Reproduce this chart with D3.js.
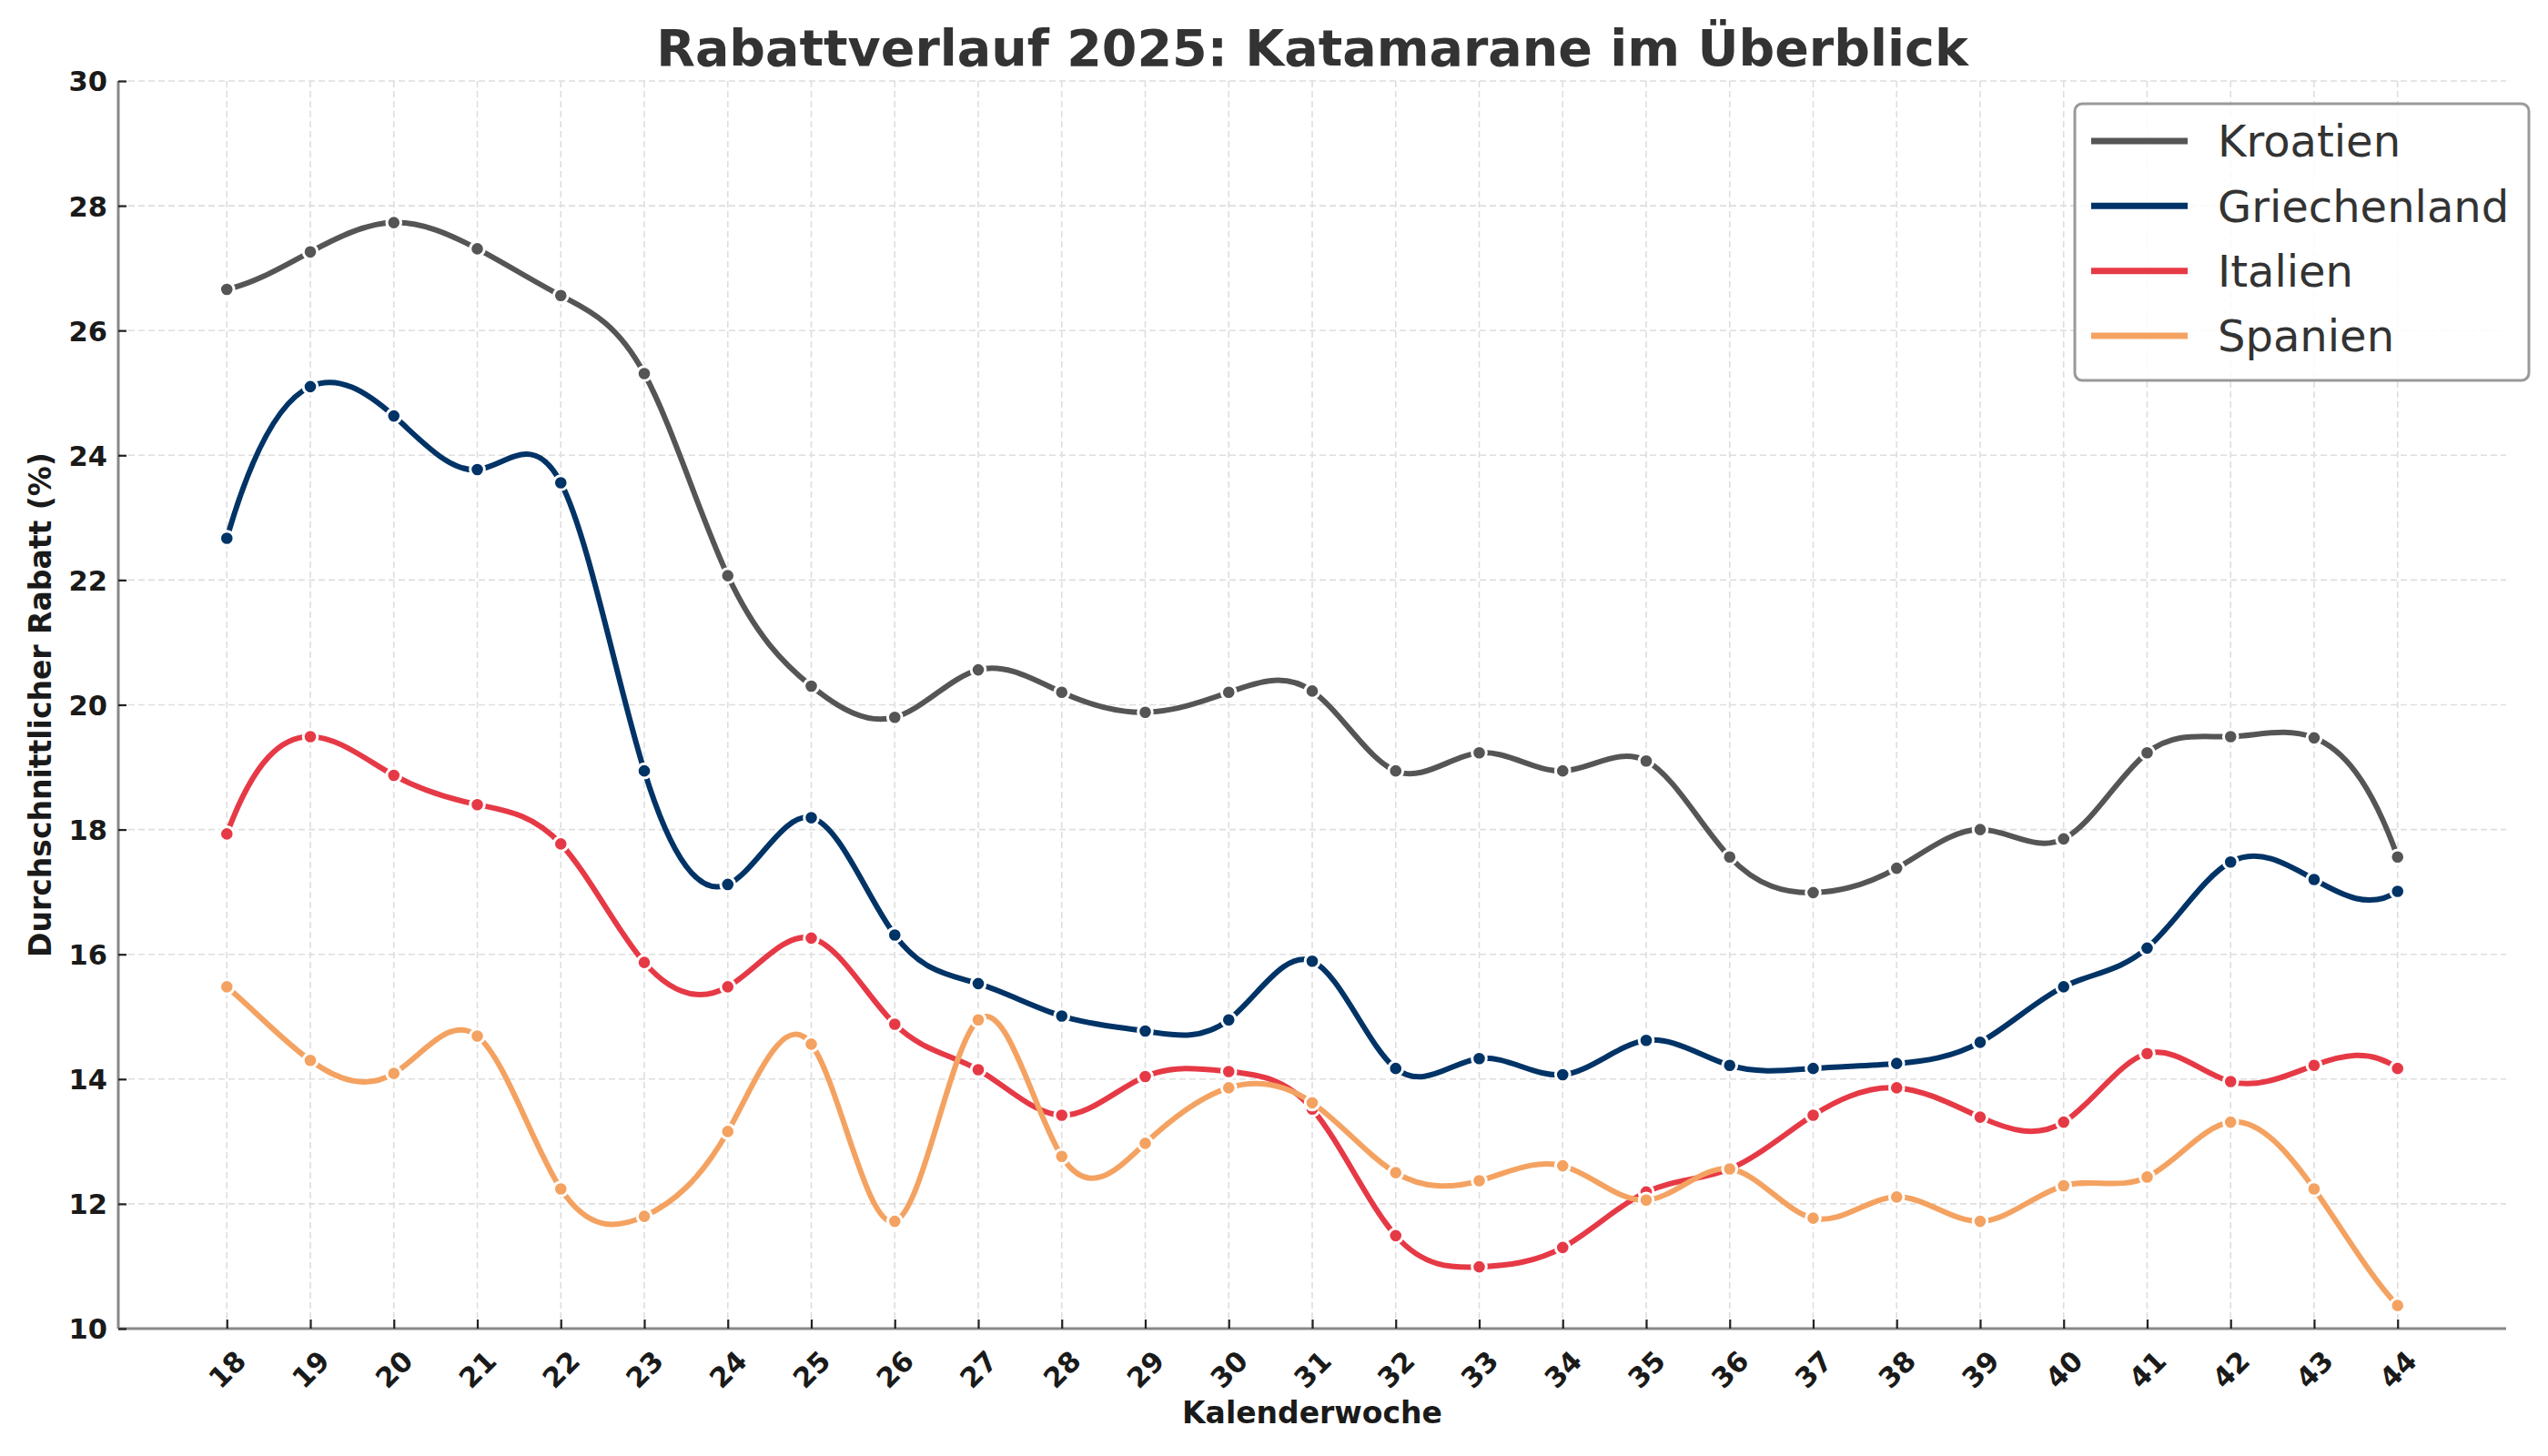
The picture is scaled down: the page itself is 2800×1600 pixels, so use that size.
<!DOCTYPE html>
<html>
<head>
<meta charset="utf-8">
<script src="https://cdn.jsdelivr.net/npm/d3@7"></script>
<style>
  html, body { margin: 0; padding: 0; background: #ffffff; }
  svg { display: block; }
  text { font-family: "DejaVu Sans", sans-serif; }
</style>
</head>
<body>
<svg id="chart" width="2800" height="1600"></svg>
<script>
// ---------------- DATA ----------------
const weeks = [18, 19, 20, 21, 22, 23, 24, 25, 26, 27, 28, 29, 30, 31, 32, 33, 34, 35, 36, 37, 38, 39, 40, 41, 42, 43, 44];

const kroatien = [26.66, 27.26, 27.73, 27.31, 26.56, 25.31, 22.07, 20.30, 19.80, 20.56, 20.20, 19.88, 20.20, 20.22,
                  18.94, 19.23, 18.94, 19.10, 17.56, 16.99, 17.38, 18.00, 17.85, 19.23, 19.49, 19.47, 17.56];
const griechenland = [22.67, 25.10, 24.63, 23.77, 23.56, 18.94, 17.12, 18.19, 16.31, 15.53, 15.01, 14.77, 14.95, 15.89,
                      14.17, 14.33, 14.07, 14.62, 14.22, 14.17, 14.25, 14.59, 15.48, 16.10, 17.48, 17.20, 17.01];
const italien = [17.93, 19.49, 18.87, 18.40, 17.77, 15.87, 15.48, 16.26, 14.88, 14.15, 13.42, 14.04, 14.12, 13.52,
                 11.49, 10.99, 11.30, 12.19, 12.56, 13.42, 13.86, 13.39, 13.31, 14.41, 13.96, 14.22, 14.17];
const spanien = [15.48, 14.30, 14.09, 14.69, 12.24, 11.80, 13.16, 14.56, 11.72, 14.95, 12.76, 12.97, 13.86, 13.62,
                 12.50, 12.37, 12.61, 12.06, 12.56, 11.77, 12.11, 11.72, 12.29, 12.43, 13.31, 12.24, 10.37];

const seriesNames = ["Kroatien", "Griechenland", "Italien", "Spanien"];
const seriesValues = [kroatien, griechenland, italien, spanien];
const seriesColors = ["#555555", "#003366", "#e63946", "#f4a261"];

const yTicks = [10, 12, 14, 16, 18, 20, 22, 24, 26, 28, 30];

const titleText = "Rabattverlauf 2025: Katamarane im Überblick";
const xLabelText = "Kalenderwoche";
const yLabelText = "Durchschnittlicher Rabatt (%)";

// ---------------- LAYOUT ----------------
const plot = { left: 130, right: 2754, top: 89, bottom: 1460 };

const x = d3.scaleLinear().domain([16.7, 45.3]).range([plot.left, plot.right]);
const y = d3.scaleLinear().domain([10, 30]).range([plot.bottom, plot.top]);

// Not-a-knot cubic spline curve (like scipy make_interp_spline k=3)
function NotAKnot(context) { this._context = context; }
NotAKnot.prototype = {
  areaStart() { this._line = 0; },
  areaEnd() { this._line = NaN; },
  lineStart() { this._xs = []; this._ys = []; },
  point(px, py) { this._xs.push(+px); this._ys.push(+py); },
  lineEnd() {
    const X = this._xs, Y = this._ys, n = X.length, c = this._context;
    if (n === 0) return;
    if (n < 4) {
      c.moveTo(X[0], Y[0]);
      for (let i = 1; i < n; i++) c.lineTo(X[i], Y[i]);
      return;
    }
    const h = [], s = [];
    for (let i = 0; i < n - 1; i++) { h.push(X[i + 1] - X[i]); s.push((Y[i + 1] - Y[i]) / h[i]); }
    const A = [], b = [];
    for (let i = 0; i < n; i++) { A.push(new Array(n).fill(0)); b.push(0); }
    A[0][0] = 1 / (h[0] * h[0]); A[0][1] = 1 / (h[0] * h[0]) - 1 / (h[1] * h[1]); A[0][2] = -1 / (h[1] * h[1]);
    b[0] = 2 * s[0] / (h[0] * h[0]) - 2 * s[1] / (h[1] * h[1]);
    for (let i = 1; i < n - 1; i++) {
      A[i][i - 1] = h[i];
      A[i][i] = 2 * (h[i - 1] + h[i]);
      A[i][i + 1] = h[i - 1];
      b[i] = 3 * (h[i] * s[i - 1] + h[i - 1] * s[i]);
    }
    const k = n - 2;
    const ha = h[k - 1], hb = h[k];
    A[n - 1][n - 3] = 1 / (ha * ha); A[n - 1][n - 2] = 1 / (ha * ha) - 1 / (hb * hb); A[n - 1][n - 1] = -1 / (hb * hb);
    b[n - 1] = 2 * s[k - 1] / (ha * ha) - 2 * s[k] / (hb * hb);
    for (let col = 0; col < n; col++) {
      let piv = col;
      for (let r = col + 1; r < n; r++) if (Math.abs(A[r][col]) > Math.abs(A[piv][col])) piv = r;
      [A[col], A[piv]] = [A[piv], A[col]]; [b[col], b[piv]] = [b[piv], b[col]];
      for (let r = col + 1; r < n; r++) {
        const f = A[r][col] / A[col][col];
        if (f === 0) continue;
        for (let cc = col; cc < n; cc++) A[r][cc] -= f * A[col][cc];
        b[r] -= f * b[col];
      }
    }
    const m = new Array(n).fill(0);
    for (let r = n - 1; r >= 0; r--) {
      let sum = b[r];
      for (let cc = r + 1; cc < n; cc++) sum -= A[r][cc] * m[cc];
      m[r] = sum / A[r][r];
    }
    c.moveTo(X[0], Y[0]);
    for (let i = 0; i < n - 1; i++) {
      const d = h[i] / 3;
      c.bezierCurveTo(X[i] + d, Y[i] + m[i] * d, X[i + 1] - d, Y[i + 1] - m[i + 1] * d, X[i + 1], Y[i + 1]);
    }
  }
};
const curveNotAKnot = (context) => new NotAKnot(context);

const svg = d3.select("#chart");
svg.append("rect").attr("x", 0).attr("y", 0).attr("width", 2800).attr("height", 1600).attr("fill", "#ffffff");

// Grid
const grid = svg.append("g").attr("class", "grid");
grid.selectAll("line.gx").data(weeks).join("line")
  .attr("class", "gx")
  .attr("x1", d => x(d)).attr("x2", d => x(d))
  .attr("y1", plot.top).attr("y2", plot.bottom)
  .attr("stroke", "#dedede").attr("stroke-width", 1.6).attr("stroke-dasharray", "7,4");
grid.selectAll("line.gy").data(yTicks).join("line")
  .attr("class", "gy")
  .attr("x1", plot.left).attr("x2", plot.right)
  .attr("y1", d => y(d)).attr("y2", d => y(d))
  .attr("stroke", "#dedede").attr("stroke-width", 1.6).attr("stroke-dasharray", "7,4");

// Series
const line = d3.line().x((d, i) => x(weeks[i])).y(d => y(d)).curve(curveNotAKnot);
seriesValues.forEach((vals, si) => {
  const g = svg.append("g").attr("class", "series");
  g.append("path")
    .attr("d", line(vals))
    .attr("fill", "none")
    .attr("stroke", seriesColors[si])
    .attr("stroke-width", 6)
    .attr("stroke-linecap", "round")
    .attr("stroke-linejoin", "round");
  g.selectAll("circle").data(vals).join("circle")
    .attr("cx", (d, i) => x(weeks[i]))
    .attr("cy", d => y(d))
    .attr("r", 7.8)
    .attr("fill", seriesColors[si])
    .attr("stroke", "#ffffff")
    .attr("stroke-width", 3);
});

// Axes
const xAxis = d3.axisBottom(x).tickValues(weeks).tickFormat(d3.format("d")).tickSizeInner(-10).tickSizeOuter(0).tickPadding(10);
const yAxis = d3.axisLeft(y).tickValues(yTicks).tickFormat(d3.format("d")).tickSizeInner(-9).tickSizeOuter(0).tickPadding(12);

const gx = svg.append("g").attr("transform", `translate(0,${plot.bottom})`).call(xAxis);
const gy = svg.append("g").attr("transform", `translate(${plot.left},0)`).call(yAxis);

[gx, gy].forEach(g => {
  g.select(".domain").attr("stroke", "#888888").attr("stroke-width", 3);
  g.selectAll(".tick line").attr("stroke", "#222222").attr("stroke-width", 2.2);
  g.selectAll(".tick text")
    .attr("fill", "#1a1a1a")
    .style("font-family", "'DejaVu Sans', sans-serif")
    .style("font-weight", "bold")
    .style("font-size", "30.5px");
});
gx.select(".domain").attr("d", `M${plot.left},0H${plot.right}`);
gy.select(".domain").attr("d", `M0,${plot.bottom}V${plot.top}`);

gx.selectAll(".tick text")
  .attr("y", 0).attr("dy", null)
  .attr("text-anchor", "middle")
  .attr("dominant-baseline", "central")
  .attr("transform", "translate(0,45) rotate(-45)");

gy.selectAll(".tick text").attr("dy", "0.36em");

// Titles & labels
svg.append("text")
  .attr("x", (plot.left + plot.right) / 2).attr("y", 72)
  .attr("text-anchor", "middle")
  .attr("fill", "#333333")
  .style("font-weight", "bold").style("font-size", "55.5px")
  .text(titleText);

svg.append("text")
  .attr("x", (plot.left + plot.right) / 2).attr("y", 1564)
  .attr("text-anchor", "middle")
  .attr("fill", "#1a1a1a")
  .style("font-weight", "bold").style("font-size", "33px")
  .text(xLabelText);

svg.append("text")
  .attr("transform", `translate(56,${(plot.top + plot.bottom) / 2}) rotate(-90)`)
  .attr("text-anchor", "middle")
  .attr("fill", "#1a1a1a")
  .style("font-weight", "bold").style("font-size", "33px")
  .text(yLabelText);

// Legend
const legend = svg.append("g").attr("class", "legend");
legend.append("rect")
  .attr("x", 2280).attr("y", 114).attr("width", 499).attr("height", 304)
  .attr("rx", 8).attr("ry", 8)
  .attr("fill", "#ffffff").attr("fill-opacity", 0.85)
  .attr("stroke", "#999999").attr("stroke-width", 3);
const legendRowY = d3.scaleLinear().domain([0, 3]).range([155, 369]);
seriesNames.forEach((name, i) => {
  const ly = legendRowY(i);
  legend.append("line")
    .attr("x1", 2298).attr("x2", 2404)
    .attr("y1", ly).attr("y2", ly)
    .attr("stroke", seriesColors[i]).attr("stroke-width", 7);
  legend.append("text")
    .attr("x", 2437).attr("y", ly)
    .attr("dy", "0.36em")
    .attr("fill", "#333333")
    .style("font-size", "48px")
    .text(name);
});
</script>
</body>
</html>
